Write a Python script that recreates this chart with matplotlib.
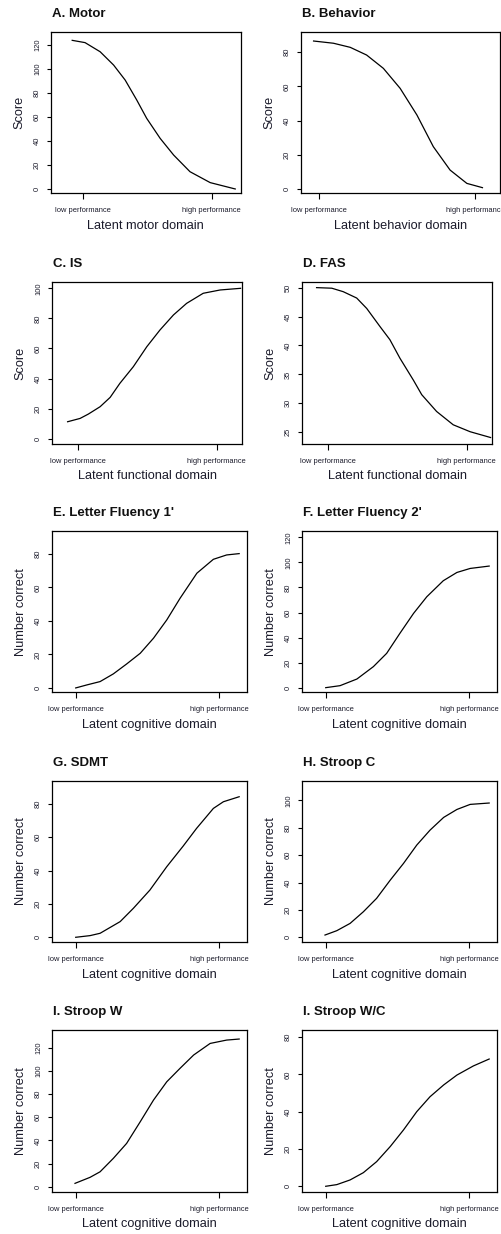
import matplotlib.pyplot as plt

plt.rcParams['font.family'] = ['Liberation Sans', 'DejaVu Sans']

# Latentni skala: tick "low performance" = -2, "high performance" = 2
motor_theta = [-2.35, -1.95, -1.48, -1.06, -0.70, -0.34, -0.03, 0.39, 0.81, 1.32, 1.95, 2.73]
motor_score = [123.9, 122.0, 114.4, 103.3, 90.8, 74.2, 58.9, 42.2, 28.3, 14.4, 5.3, 0.0]

behav_theta = [-2.15, -1.64, -1.21, -0.79, -0.36, 0.07, 0.50, 0.92, 1.35, 1.78, 2.18]
behav_score = [86.6, 85.3, 82.9, 78.4, 70.6, 58.9, 43.3, 24.8, 11.1, 3.3, 0.8]

is_theta = [-2.31, -1.95, -1.71, -1.37, -1.08, -0.80, -0.41, -0.02, 0.36, 0.75, 1.13, 1.61, 2.10, 2.69]
is_score = [11.3, 13.5, 16.4, 21.3, 27.5, 36.8, 47.9, 61.2, 72.3, 82.3, 90.0, 96.7, 98.9, 100.0]

fas_theta = [-2.34, -1.90, -1.57, -1.18, -0.89, -0.51, -0.22, 0.07, 0.46, 0.70, 1.13, 1.61, 2.10, 2.69]
fas_score = [50.0, 49.9, 49.3, 48.2, 46.4, 43.3, 41.0, 37.8, 34.0, 31.5, 28.6, 26.3, 25.1, 24.1]

lf1_theta = [-2.00, -1.69, -1.32, -0.95, -0.58, -0.20, 0.17, 0.54, 0.91, 1.38, 1.84, 2.21, 2.56]
lf1_score = [0.0, 1.8, 3.8, 8.4, 14.3, 20.7, 29.7, 40.6, 53.5, 68.5, 76.8, 79.4, 80.2]

lf2_theta = [-2.00, -1.60, -1.13, -0.67, -0.30, 0.07, 0.45, 0.82, 1.28, 1.66, 2.03, 2.56]
lf2_score = [0.0, 1.6, 6.9, 16.8, 27.4, 43.4, 59.3, 72.6, 85.4, 92.0, 95.2, 97.1]

sdmt_theta = [-2.00, -1.60, -1.32, -0.76, -0.39, 0.07, 0.54, 1.00, 1.37, 1.84, 2.12, 2.56]
sdmt_score = [0.0, 1.0, 2.4, 9.4, 17.4, 28.3, 42.3, 54.7, 65.2, 77.2, 81.2, 84.2]

strc_theta = [-2.02, -1.69, -1.32, -0.95, -0.58, -0.20, 0.17, 0.54, 0.91, 1.29, 1.66, 2.03, 2.56]
strc_score = [1.7, 4.9, 10.2, 18.7, 28.5, 41.8, 54.0, 67.4, 78.3, 87.6, 93.4, 97.1, 98.1]

strw_theta = [-2.02, -1.60, -1.32, -0.95, -0.58, -0.20, 0.17, 0.54, 0.91, 1.29, 1.75, 2.21, 2.56]
strw_score = [2.9, 8.1, 12.9, 24.5, 37.4, 56.1, 74.8, 90.6, 102.2, 113.7, 123.7, 126.6, 127.5]

strwc_theta = [-2.00, -1.69, -1.32, -0.95, -0.58, -0.20, 0.17, 0.54, 0.91, 1.29, 1.66, 2.12, 2.56]
strwc_score = [0.0, 0.9, 3.4, 7.3, 13.2, 21.3, 30.2, 40.0, 48.0, 54.3, 59.6, 64.5, 68.2]

titles = ["A. Motor", "B. Behavior", "C. IS", "D. FAS", "E. Letter Fluency 1'",
          "F. Letter Fluency 2'", "G. SDMT", "H. Stroop C", "I. Stroop W", "I. Stroop W/C"]
xlabels = ["Latent motor domain", "Latent behavior domain", "Latent functional domain",
           "Latent functional domain"] + ["Latent cognitive domain"] * 6
ylabels = ["Score"] * 4 + ["Number correct"] * 6
yticks = [[0, 20, 40, 60, 80, 100, 120], [0, 20, 40, 60, 80], [0, 20, 40, 60, 80, 100],
          [25, 30, 35, 40, 45, 50], [0, 20, 40, 60, 80], [0, 20, 40, 60, 80, 100, 120],
          [0, 20, 40, 60, 80], [0, 20, 40, 60, 80, 100], [0, 20, 40, 60, 80, 100, 120],
          [0, 20, 40, 60, 80]]
tick_labels = ["low performance", "high performance"]

curves = [(motor_theta, motor_score), (behav_theta, behav_score), (is_theta, is_score),
          (fas_theta, fas_score), (lf1_theta, lf1_score), (lf2_theta, lf2_score),
          (sdmt_theta, sdmt_score), (strc_theta, strc_score), (strw_theta, strw_score),
          (strwc_theta, strwc_score)]

# rozsahy os
ylims = [(-3.6, 130.6), (-2.5, 91.7), (-3.5, 104.0), (22.98, 50.92), (-2.6, 93.7),
         (-3.7, 125.1), (-3.0, 93.8), (-3.6, 114.4), (-4.3, 135.3), (-2.9, 83.75)]
xlims = [(-3.02, 2.90), (-2.48, 2.63), (-2.77, 2.74), (-2.77, 2.74)] + [(-2.67, 2.77)] * 6

# pozice panelu v pixelech: left, right, top, bottom
boxes = [(50.7, 240.7, 32.3, 193.3), (300.7, 500.0, 32.3, 193.3),
         (51.7, 242.3, 282.3, 444.0), (301.7, 492.3, 282.3, 444.0),
         (51.7, 246.7, 531.0, 692.3), (301.7, 496.7, 531.0, 692.3),
         (51.7, 246.7, 780.7, 942.3), (301.7, 496.7, 780.7, 942.3),
         (51.7, 246.7, 1030.0, 1191.7), (301.7, 496.7, 1030.0, 1191.7)]

W, H = 501, 1234
fig = plt.figure(figsize=(W / 100, H / 100), dpi=100)

for i in range(10):
    l, r, t, b = boxes[i]
    ax = fig.add_axes([l / W, 1 - b / H, (r - l) / W, (b - t) / H])
    th, sc = curves[i]
    ax.plot(th, sc, color="black", lw=0.9)
    ax.set_xlim(xlims[i])
    ax.set_ylim(ylims[i])
    ax.set_xticks([-2, 2])
    ax.set_xticklabels(tick_labels, fontsize=5.4, color="#1a1a2a")
    ax.set_yticks(yticks[i])
    ax.set_yticklabels([str(v) for v in yticks[i]], fontsize=5.4, color="#1a1a2a",
                       rotation=90, va="center")
    ax.tick_params(axis="x", length=4, width=0.8, pad=6)
    ax.tick_params(axis="y", length=3, width=0.8, pad=4)
    for s in ax.spines.values():
        s.set_linewidth(0.9)
    ax.set_xlabel(xlabels[i], fontsize=9.2, color="#1a1a2a", labelpad=4)
    ax.set_ylabel(ylabels[i], fontsize=9.2, color="#1a1a2a", labelpad=6)
    fig.text((l + 1) / W, 1 - (t - 18) / H, titles[i], fontsize=9.5, fontweight="bold",
             va="center", ha="left", color="#111111")

fig.savefig("out.png", dpi=100)
